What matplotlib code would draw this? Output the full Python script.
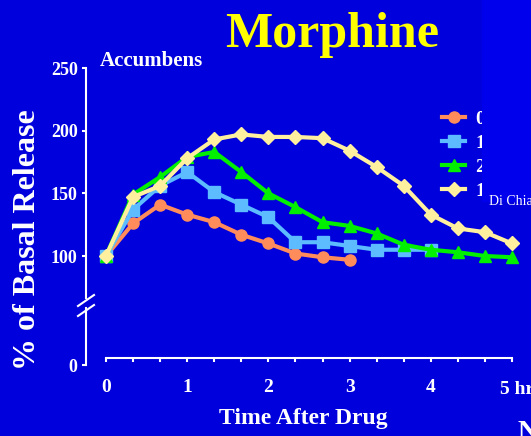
import numpy as np
import matplotlib
matplotlib.use("Agg")
import matplotlib.pyplot as plt
from matplotlib.patches import Rectangle
from matplotlib.lines import Line2D

# Data (% of basal release, samples every 20 min)
t = np.arange(16) / 3.0
dose_labels = ['0.5', '1', '2', '10']
orange = [100, 126, 141, 133, 127, 117, 110, 102, 99, 97]
blue = [100, 137, 156, 167, 151, 141, 131, 111, 111, 108, 105, 105, 105]
green = [100, 149, 163, 179, 183, 167, 150, 139, 127, 124, 118, 109, 105, 103, 100, 99]
yellow = [100, 147, 156, 178, 193, 197, 195, 195, 194, 184, 171, 156, 133, 122, 119, 110]
ytick_vals = [100, 150, 200, 250]
xtick_vals = [0, 1, 2, 3, 4, 5]
xtick_labels = ['0', '1', '2', '3', '4', '']  # "5 hr" is written as a separate text

bg = '#0000DC'
serif = 'Liberation Serif'
W, H = 531, 436

fig = plt.figure(figsize=(W / 100, H / 100), dpi=100)
fig.patch.set_facecolor(bg)

def fx(px):
    return px / W

def fy(py):
    return 1 - py / H

# upper part of the broken axis (66.5 .. 250)
ax = fig.add_axes([fx(86), fy(298), fx(W - 86), (298 - 68) / H])
# lower stub with only the 0 tick
ax0 = fig.add_axes([fx(86), fy(365), fx(W - 86), (365 - 308) / H], sharex=ax)
for a in (ax, ax0):
    a.set_facecolor('none')
    for s in ['top', 'right']:
        a.spines[s].set_visible(False)
    a.spines['left'].set_color('white')
    a.spines['left'].set_linewidth(1.5)
    a.tick_params(axis='y', colors='white', direction='out', length=3, width=1.5, pad=3)

ax.set_xlim(-0.246, 5.234)
ax.set_ylim(66.5, 250)
ax.spines['bottom'].set_visible(False)
ax.set_yticks(ytick_vals)
ax.set_yticklabels([str(v) for v in ytick_vals], fontfamily=serif, fontweight='bold', fontsize=13)

ax0.set_ylim(0, 45.5)
ax0.set_yticks([0])
ax0.set_yticklabels(['0'], fontfamily=serif, fontweight='bold', fontsize=13)
ax0.spines['bottom'].set_position(('data', 5.6))
ax0.spines['bottom'].set_bounds(0, 5)
ax0.spines['bottom'].set_color('white')
ax0.spines['bottom'].set_linewidth(1.5)
ax0.set_xticks(xtick_vals)
ax0.set_xticks(np.arange(16) / 3.0, minor=True)
ax0.set_xticklabels(xtick_labels, fontfamily=serif, fontweight='bold', fontsize=14)
ax0.tick_params(axis='x', which='both', colors='white', direction='out', length=3, width=1.5, pad=12)
ax.tick_params(axis='x', which='both', bottom=False, labelbottom=False)

lw, ms = 3, 8
series = [
    (orange, '#FF8C5A', 'o', ms),
    (blue, '#5CBCFF', 's', ms),
    (green, '#00F000', '^', ms + 1),
    (yellow, '#FFF0A0', 'D', ms - 1),
]
handles = []
for vals, c, m, s in series:
    ax.plot(t[:len(vals)], vals, color=c, lw=lw, marker=m, ms=s, mec=c, clip_on=False)
    handles.append(Line2D([], [], color=c, lw=lw, marker=m, ms=s, mec=c))

leg = ax.legend(handles, dose_labels, loc='upper left', bbox_to_anchor=(fx(442), fy(110)),
                bbox_transform=fig.transFigure, frameon=False, borderpad=0, borderaxespad=0,
                handlelength=1.2, handletextpad=0.5, labelspacing=0.33,
                prop={'family': serif, 'weight': 'bold', 'size': 14})
for txt in leg.get_texts():
    txt.set_color('white')

# break marks on the y axis
for yy in (306, 316):
    fig.add_artist(Line2D([fx(78), fx(94)], [fy(yy), fy(yy - 11)], color='white', lw=1.5))

# texts
fig.text(fx(332), fy(47), 'Morphine', color='#FFFF00', fontsize=36, fontweight='bold',
         fontfamily=serif, ha='center', va='baseline')
fig.text(fx(100), fy(66), 'Accumbens', color='white', fontsize=15, fontweight='bold',
         fontfamily=serif, ha='left', va='baseline')
fig.text(fx(28), fy(240), '% of Basal Release', color='white', fontsize=23, fontweight='bold',
         fontfamily=serif, rotation=90, ha='center', va='center')
fig.text(fx(303), fy(418), 'Time After Drug', color='white', fontsize=17, fontweight='bold',
         fontfamily=serif, ha='center', va='center')
fig.text(fx(500), fy(394), '5 hr', color='white', fontsize=14, fontweight='bold',
         fontfamily=serif, ha='left', va='baseline')
fig.text(fx(517), fy(439), 'N', color='white', fontsize=20, fontweight='bold',
         fontfamily=serif, ha='left', va='baseline')

# overlapping panel on the right of the slide
fig.add_artist(Rectangle((fx(482), fy(202)), fx(W - 482), 202 / H, transform=fig.transFigure,
                         facecolor='#0000EC', edgecolor='none', zorder=5))
fig.text(fx(489), fy(205), 'Di Chiara', color='white', fontsize=10, fontfamily=serif,
         ha='left', va='baseline', zorder=6)

fig.savefig('out.png', dpi=100, facecolor=bg)
